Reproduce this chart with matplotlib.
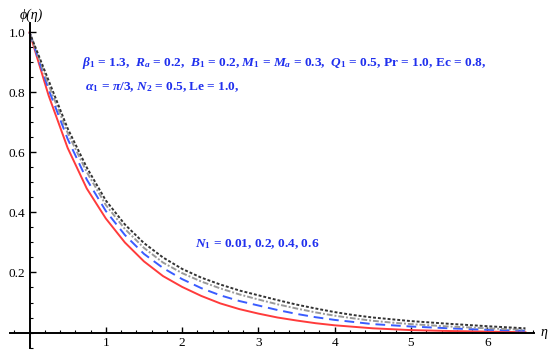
import numpy as np
import matplotlib.pyplot as plt
from matplotlib.ticker import MultipleLocator

plt.rcParams['font.family'] = ['Liberation Serif', 'DejaVu Serif']
plt.rcParams['mathtext.fontset'] = 'custom'
plt.rcParams['mathtext.rm'] = 'Liberation Serif:bold'
plt.rcParams['mathtext.it'] = 'Liberation Serif:italic:bold'
plt.rcParams['mathtext.bf'] = 'Liberation Serif:bold'

# data
eta = [0, 0.25, 0.5, 0.75, 1.0, 1.25, 1.5, 1.75, 2.0, 2.25, 2.5, 2.75, 3.0, 3.25, 3.5, 3.75,
       4.0, 4.25, 4.5, 4.75, 5.0, 5.5, 6.0, 6.5]
phi_001 = [1.0, 0.79, 0.615, 0.48, 0.38, 0.30, 0.237, 0.188, 0.152, 0.122, 0.097, 0.078,
           0.063, 0.05, 0.04, 0.031, 0.024, 0.019, 0.014, 0.011, 0.008, 0.005, 0.003, 0.001]
phi_02 = [1.0, 0.81, 0.645, 0.51, 0.405, 0.325, 0.262, 0.215, 0.178, 0.148, 0.124, 0.105,
          0.09, 0.075, 0.062, 0.051, 0.042, 0.035, 0.028, 0.024, 0.02, 0.014, 0.009, 0.006]
phi_04 = [1.0, 0.825, 0.665, 0.535, 0.425, 0.345, 0.282, 0.233, 0.198, 0.17, 0.147, 0.127,
          0.11, 0.094, 0.08, 0.067, 0.056, 0.047, 0.039, 0.033, 0.028, 0.02, 0.014, 0.009]
phi_06 = [1.0, 0.84, 0.68, 0.55, 0.44, 0.36, 0.298, 0.25, 0.212, 0.183, 0.16, 0.14,
          0.124, 0.108, 0.093, 0.08, 0.068, 0.058, 0.05, 0.044, 0.038, 0.029, 0.021, 0.014]

fig = plt.figure(figsize=(5.5, 3.5), dpi=100)
ax = fig.add_axes([0.0176, 0.0071, 0.953, 0.926])

ax.plot(eta, phi_001, color='#ff3b3b', lw=1.4, ls='-')
ax.plot(eta, phi_02, color='#3a5cff', lw=1.4, ls=(0, (5, 3)))
ax.plot(eta, phi_04, color='#9a9a9a', lw=1.4, ls=(0, (3, 1, 1, 1)))
ax.plot(eta, phi_06, color='#333333', lw=1.4, ls=(0, (1.5, 1)))

ax.set_xlim(-0.26, 6.61)
ax.set_ylim(-0.05, 1.03)

for s in ['top', 'right']:
    ax.spines[s].set_visible(False)
for s in ['left', 'bottom']:
    ax.spines[s].set_position(('data', 0))
    ax.spines[s].set_linewidth(1.4)

ax.set_xticks([1, 2, 3, 4, 5, 6])
ax.set_yticks([0.2, 0.4, 0.6, 0.8, 1.0])
ax.set_yticklabels(['0.2', '0.4', '0.6', '0.8', '1.0'])
ax.xaxis.set_minor_locator(MultipleLocator(0.2))
ax.yaxis.set_minor_locator(MultipleLocator(0.05))
ax.tick_params(which='major', direction='in', length=4, width=1, labelsize=9.5, pad=3)
ax.tick_params(which='minor', direction='in', length=2, width=0.8)

ax.text(6.7, 0, 'η', fontsize=10, fontstyle='italic', va='center', ha='left', clip_on=False)
fig.text(0.057, 0.957, 'ϕ(η)', fontsize=10, fontstyle='italic', va='center', ha='center')

txt1 = (r'$\beta_1$ = 1.3,  $R_a$ = 0.2,  $B_1$ = 0.2, $M_1$ = $M_a$ = 0.3,  '
        r'$Q_1$ = 0.5, Pr = 1.0, Ec = 0.8,')
txt2 = r' $\alpha_1$ = $\pi$/3, $N_2$ = 0.5, Le = 1.0,'
fig.text(82 / 550, 1 - 63 / 350, txt1, fontsize=9.6, fontweight='bold', color='#2030ee', va='center')
fig.text(82 / 550, 1 - 87 / 350, txt2, fontsize=9.6, fontweight='bold', color='#2030ee', va='center')
fig.text(195 / 550, 1 - 244 / 350, r'$N_1$ = 0.01, 0.2, 0.4, 0.6', fontsize=9.6,
         fontweight='bold', color='#2030ee', va='center')

fig.savefig('out.png', dpi=100)
